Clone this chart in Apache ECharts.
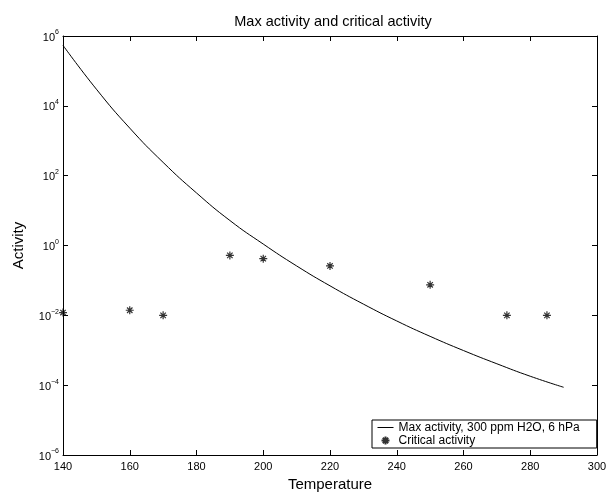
<!DOCTYPE html>
<html>
<head>
<meta charset="utf-8">
<script src="https://cdn.jsdelivr.net/npm/echarts@6/dist/echarts.min.js"></script>
<style>
  html, body { margin: 0; padding: 0; background: #fff; }
  #main { width: 613px; height: 493px; }
</style>
</head>
<body>
<div id="main"></div>
<script>
// temperature (K) for the max activity curve
var tempMax = [140, 150, 160, 170, 180, 190, 200, 210, 220, 230, 240, 250, 260, 270, 280, 290];
var maxActivity = [5.4e5, 3.0e4, 2.3e3, 240, 32, 5.2, 1.1, 0.26, 0.07, 0.021, 0.0069, 0.0025, 0.00098, 0.00041, 0.00018, 8.7e-5];

// critical activity points
var tempCrit = [140, 160, 170, 190, 200, 220, 250, 273, 285];
var critActivity = [0.012, 0.014, 0.01, 0.52, 0.42, 0.26, 0.075, 0.01, 0.01];

var xTicks = [140, 160, 180, 200, 220, 240, 260, 280, 300];

var FONT = 'Liberation Sans';
var star = 'path://M5,0L5,10M0,5L10,5M1.6,1.6L8.4,8.4M1.6,8.4L8.4,1.6';

function supLabel(v) {
  var e = Math.round(Math.log10(v));
  var s = e < 0 ? '\u2212' + (-e) : '' + e;
  return '{b|10}{e|' + s + '}';
}

var chart = echarts.init(document.getElementById('main'));
var axisLine = { show: true, lineStyle: { color: '#000', width: 1 } };
var tick = { show: true, inside: true, length: 5, lineStyle: { color: '#000' } };

chart.setOption({
  animation: false,
  backgroundColor: '#fff',
  title: {
    text: 'Max activity and critical activity',
    left: 328, top: 9, textAlign: 'center',
    textStyle: { fontFamily: FONT, fontSize: 14.5, fontWeight: 'normal', color: '#000' }
  },
  grid: { left: 63, right: 16, top: 36, bottom: 38, containLabel: false, outerBoundsMode: 'none' },
  legend: {
    orient: 'vertical',
    left: 372, top: 420,
    padding: [1, 17, 1, 5],
    itemGap: 0,
    itemWidth: 16, itemHeight: 8,
    borderColor: '#000', borderWidth: 1,
    backgroundColor: '#fff',
    lineStyle: { width: 1, color: '#000' },
    textStyle: { fontFamily: FONT, fontSize: 12, color: '#000', lineHeight: 13 },
    data: [
      { name: 'Max activity, 300 ppm H2O, 6 hPa', itemStyle: { color: 'rgba(0,0,0,0)', borderWidth: 0 } },
      { name: 'Critical activity' }
    ]
  },
  xAxis: [{
    type: 'value', min: 140, max: 300, interval: 20,
    name: 'Temperature', nameLocation: 'middle', nameGap: 20,
    nameTextStyle: { fontFamily: FONT, fontSize: 15, color: '#000' },
    axisLine: axisLine, axisTick: tick,
    axisLabel: { fontFamily: FONT, fontSize: 11, color: '#000', margin: 6,
      formatter: function (v) { return xTicks.indexOf(v) >= 0 ? v : ''; } },
    splitLine: { show: false }
  }, {
    type: 'value', position: 'top', min: 140, max: 300, interval: 20,
    axisLine: axisLine, axisTick: tick, axisLabel: { show: false }, splitLine: { show: false }
  }],
  yAxis: [{
    type: 'log', logBase: 10, min: 1e-6, max: 1e6, interval: 2,
    name: 'Activity', nameLocation: 'middle', nameGap: 37,
    nameTextStyle: { fontFamily: FONT, fontSize: 15, color: '#000' },
    axisLine: axisLine, axisTick: tick,
    axisLabel: {
      margin: 4,
      formatter: supLabel,
      rich: {
        b: { fontFamily: FONT, fontSize: 11, color: '#000', verticalAlign: 'bottom', lineHeight: 14 },
        e: { fontFamily: FONT, fontSize: 7, color: '#000', verticalAlign: 'top', lineHeight: 14 }
      }
    },
    splitLine: { show: false }
  }, {
    type: 'log', logBase: 10, min: 1e-6, max: 1e6, interval: 2, position: 'right',
    axisLine: axisLine, axisTick: tick, axisLabel: { show: false }, splitLine: { show: false }
  }],
  series: [{
    name: 'Max activity, 300 ppm H2O, 6 hPa',
    type: 'line',
    smooth: true,
    symbol: 'none',
    lineStyle: { color: '#000', width: 1 },
    itemStyle: { color: '#000' },
    data: tempMax.map(function (t, i) { return [t, maxActivity[i]]; })
  }, {
    name: 'Critical activity',
    type: 'scatter',
    symbol: star,
    symbolSize: 8,
    itemStyle: { color: 'transparent', borderColor: '#000', borderWidth: 1.2 },
    data: tempCrit.map(function (t, i) { return [t, critActivity[i]]; })
  }]
});
</script>
</body>
</html>
